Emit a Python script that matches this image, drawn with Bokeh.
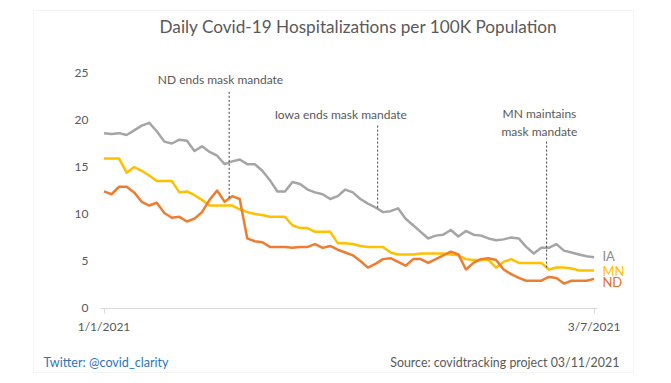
import numpy as np
import pandas as pd
from bokeh.plotting import figure
from bokeh.models import Range1d, FixedTicker, Label, BoxAnnotation
from bokeh.embed import file_html
from bokeh.resources import INLINE

# ---------------- data ----------------
dates = pd.date_range("2021-01-01", "2021-03-07", freq="D")
days = (dates - dates[0]).days.to_numpy()

ia = [18.6, 18.5, 18.6, 18.4, 18.9, 19.4, 19.7, 18.8, 17.7, 17.5, 17.9, 17.8, 16.7, 17.2, 16.6, 16.2,
      15.3, 15.6, 15.8, 15.3, 15.3, 14.6,
      13.6, 12.4, 12.4, 13.4, 13.2, 12.6, 12.3, 12.1, 11.6, 11.9, 12.6, 12.3, 11.6, 11.1, 10.7, 10.2,
      10.3, 10.6, 9.5, 8.8, 8.1, 7.4,
      7.7, 7.8, 8.3, 7.6, 8.2, 7.8, 7.7, 7.4, 7.2, 7.3, 7.5, 7.4, 6.5, 5.8, 6.4, 6.4, 6.8, 6.1, 5.9,
      5.7, 5.5, 5.4]
mn = [15.9, 15.9, 15.9, 14.4, 15.0, 14.6, 14.1, 13.5, 13.5, 13.5, 12.3, 12.4, 12.0, 11.5, 10.9, 10.9,
      10.9, 10.9, 10.5, 10.2, 10.0, 9.9,
      9.7, 9.7, 9.7, 8.8, 8.5, 8.5, 8.1, 8.1, 8.1, 6.9, 6.9, 6.8, 6.6, 6.5, 6.5, 6.5, 5.9, 5.7, 5.7,
      5.7, 5.8, 5.8,
      5.8, 5.8, 5.7, 5.6, 5.2, 5.1, 5.1, 5.1, 4.3, 4.9, 5.2, 4.8, 4.8, 4.8, 4.8, 4.1, 4.3, 4.3, 4.2,
      4.0, 4.0, 4.0]
nd = [12.4, 12.1, 12.9, 12.9, 12.3, 11.3, 10.9, 11.2, 10.1, 9.6, 9.7, 9.2, 9.5, 10.2, 11.5, 12.5,
      11.3, 11.9, 11.6, 7.4, 7.1, 7.0,
      6.5, 6.5, 6.5, 6.4, 6.5, 6.5, 6.8, 6.4, 6.6, 6.2, 5.9, 5.6, 5.0, 4.3, 4.7, 5.2, 5.3, 4.9, 4.5,
      5.2, 5.2, 4.8,
      5.2, 5.6, 6.0, 5.7, 4.1, 4.8, 5.2, 5.3, 5.1, 4.1, 3.6, 3.2, 2.9, 2.9, 2.9, 3.3, 3.2, 2.6, 2.9,
      2.9, 2.9, 3.1]

series_names = ["IA", "MN", "ND"]
series_values = [ia, mn, nd]
series_colors = ["#A5A5A5", "#FFC000", "#ED7D31"]
label_colors = ["#8C8C8C", "#FFC000", "#E0702A"]
label_dy = [0.1, -0.1, -0.35]

y_ticks = [0, 5, 10, 15, 20, 25]
x_tick_days = [0, 65]

# annotation events: (day position, top of leader, text, text x, text y)
event_x = [16.6, 36.3, 58.7]
event_top = [23.0, 19.4, 17.7]
event_series = [nd, ia, mn]
event_text = ["ND ends mask mandate", "Iowa ends mask mandate", "MN maintains\nmask mandate"]
event_text_x = [15.45, 31.4, 57.75]
event_text_y = [24.3, 20.6, 19.7]

title_text = "Daily Covid-19 Hospitalizations per 100K Population"
footer_left = "Twitter: @covid_clarity"
footer_right = "Source: covidtracking project  03/11/2021"

FONT = "Lato"
GRAY = "#595959"

# ---------------- figure ----------------
W, H = 655, 375
PX_DAY, PX_UNIT = 7.54, 9.4
X0_PX, Y0_PX = 103.5, 307.5
x_start = -X0_PX / PX_DAY
y_end = Y0_PX / PX_UNIT

p = figure(width=W, height=H, output_backend="svg", toolbar_location=None,
           x_range=Range1d(x_start, x_start + W / PX_DAY),
           y_range=Range1d(y_end - H / PX_UNIT, y_end),
           min_border=0, title=None)
p.outline_line_color = None
p.grid.visible = False
p.background_fill_color = "white"
p.border_fill_color = "white"

axis_left = days[0] - 0.464
axis_right = days[-1] + 0.45

# y axis (drawn at a fixed place inside the frame)
p.yaxis.fixed_location = axis_left
p.yaxis.ticker = FixedTicker(ticks=y_ticks)
p.yaxis.axis_line_color = None
p.yaxis.major_tick_line_color = None
p.yaxis.minor_tick_line_color = None
p.yaxis.major_tick_out = 0
p.yaxis.major_tick_in = 0
p.yaxis.major_label_standoff = 12
p.yaxis.major_label_text_font = FONT
p.yaxis.major_label_text_font_size = "12px"
p.yaxis.major_label_text_color = GRAY

# x axis
p.xaxis.fixed_location = 0
p.xaxis.bounds = (axis_left, axis_right)
p.xaxis.ticker = FixedTicker(ticks=x_tick_days)
p.xaxis.major_label_overrides = {int(d): f"{dates[d].month}/{dates[d].day}/{dates[d].year}" for d in x_tick_days}
p.xaxis.axis_line_color = "#D9D9D9"
p.xaxis.major_tick_line_color = "#D9D9D9"
p.xaxis.minor_tick_line_color = None
p.xaxis.major_tick_out = 5
p.xaxis.major_tick_in = 0
p.xaxis.major_label_standoff = 6
p.xaxis.major_label_text_font = FONT
p.xaxis.major_label_text_font_size = "12px"
p.xaxis.major_label_text_color = GRAY

# series
for name, vals, col, lcol, dy in zip(series_names, series_values, series_colors, label_colors, label_dy):
    p.line(days, vals, line_color=col, line_width=2.5, line_join="round")
    p.add_layout(Label(x=days[-1] + 1.1, y=vals[-1] + dy, text=name, text_align="left",
                       text_baseline="middle", text_font=FONT, text_font_size="13px",
                       text_color=lcol))

# event leaders and texts
for ex, top, ser, txt, tx, ty in zip(event_x, event_top, event_series, event_text, event_text_x, event_text_y):
    bottom = float(np.interp(ex, days, ser))
    p.segment(x0=[ex], y0=[top], x1=[ex], y1=[bottom], line_color="#404040",
              line_width=1, line_dash="2 2")
    p.add_layout(Label(x=tx, y=ty, text=txt, text_align="center", text_baseline="middle",
                       text_font=FONT, text_font_size="12px", text_color=GRAY))

# title and footer
p.add_layout(Label(x=33.75, y=30.0, text=title_text, text_align="center", text_baseline="middle",
                   text_font=FONT, text_font_size="17.2px", text_color=GRAY))
p.add_layout(Label(x=-8.02, y=-5.8, text=footer_left, text_align="left", text_baseline="middle",
                   text_font=FONT, text_font_size="12.6px", text_color="#2E75B6"))
p.add_layout(Label(x=68.77, y=-5.8, text=footer_right, text_align="right", text_baseline="middle",
                   text_font=FONT, text_font_size="12.4px", text_color=GRAY))

# chart border
p.add_layout(BoxAnnotation(left=-9.35, right=70.23, top=31.65, bottom=-6.86,
                           fill_color=None, line_color="#D9D9D9", line_width=1))

open("out.html", "w").write(file_html(p, INLINE))
